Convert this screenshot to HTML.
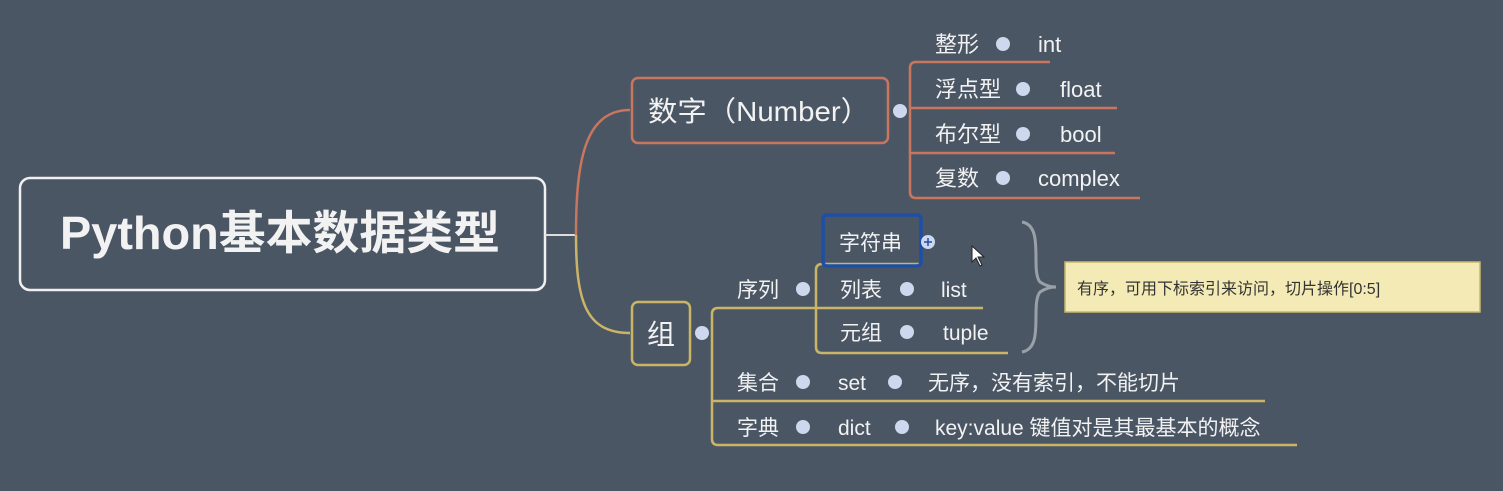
<!DOCTYPE html>
<html><head><meta charset="utf-8"><style>
html,body{margin:0;padding:0;background:#4b5665;}
svg{display:block;}
text{font-family:"Liberation Sans","Noto Sans CJK SC",sans-serif;fill:#f2f2f2;}
</style></head><body>
<svg width="1503" height="491" viewBox="0 0 1503 491" xmlns="http://www.w3.org/2000/svg">
<rect width="1503" height="491" fill="#4b5665"/>
<rect x="20" y="178" width="525" height="112" rx="10" fill="none" stroke="#f0f0f0" stroke-width="2.5"/>
<text x="280" y="249" font-size="46" font-weight="bold" text-anchor="middle" textLength="440" lengthAdjust="spacingAndGlyphs">Python基本数据类型</text>
<line x1="545" y1="235" x2="576" y2="235" stroke="#dddddd" stroke-width="2"/>
<path d="M576 235 C576 160 585 110 630 110" fill="none" stroke="#c8765e" stroke-width="2.5"/>
<path d="M576 235 C576 300 585 333 630 333" fill="none" stroke="#c9b565" stroke-width="2.5"/>
<rect x="632" y="78" width="256" height="65" rx="6" fill="none" stroke="#c8765e" stroke-width="2.5"/>
<text x="648" y="121" font-size="28" textLength="222" lengthAdjust="spacingAndGlyphs">数字（Number）</text>
<circle cx="900" cy="111" r="7" fill="#cdd8ee"/>
<g stroke="#c8765e" stroke-width="2.5" fill="none">
<path d="M1050 62 H916 Q910 62 910 68 V192 Q910 198 916 198 H1140"/>
<line x1="910" y1="108" x2="1117" y2="108"/>
<line x1="910" y1="153" x2="1115" y2="153"/>
</g>
<g font-size="22">
<text x="935" y="52">整形</text><text x="1038" y="52">int</text>
<text x="935" y="97">浮点型</text><text x="1060" y="97">float</text>
<text x="935" y="142">布尔型</text><text x="1060" y="142">bool</text>
<text x="935" y="186">复数</text><text x="1038" y="186">complex</text>
</g>
<g fill="#cdd8ee">
<circle cx="1003" cy="44" r="7"/><circle cx="1023" cy="89" r="7"/><circle cx="1023" cy="134" r="7"/><circle cx="1003" cy="178" r="7"/>
</g>
<rect x="632" y="302" width="58" height="63" rx="6" fill="none" stroke="#c9b565" stroke-width="2.5"/>
<text x="661" y="344" font-size="28" text-anchor="middle">组</text>
<circle cx="702" cy="333" r="7" fill="#cdd8ee"/>
<g stroke="#c9b565" stroke-width="2.5" fill="none">
<path d="M983 308 H718 Q712 308 712 314 V439 Q712 445 718 445 H1297"/>
<line x1="712" y1="401" x2="1265" y2="401"/>
<path d="M920 264 H822 Q816 264 816 270 V347 Q816 353 822 353 H1008"/>
</g>
<rect x="823" y="215" width="98" height="51" rx="4" fill="none" stroke="#1e4fa8" stroke-width="3.5"/>
<g font-size="21">
<text x="839" y="250">字符串</text>
<text x="737" y="297">序列</text>
<text x="840" y="297">列表</text><text x="941" y="297">list</text>
<text x="840" y="340">元组</text><text x="943" y="340">tuple</text>
<text x="737" y="390">集合</text><text x="838" y="390">set</text><text x="928" y="390">无序，没有索引，不能切片</text>
<text x="737" y="435">字典</text><text x="838" y="435">dict</text><text x="935" y="435">key:value 键值对是其最基本的概念</text>
</g>
<g fill="#cdd8ee">
<circle cx="928" cy="242" r="7"/>
<circle cx="803" cy="289" r="7"/><circle cx="907" cy="289" r="7"/><circle cx="907" cy="332" r="7"/>
<circle cx="803" cy="382" r="7"/><circle cx="895" cy="382" r="7"/>
<circle cx="803" cy="427" r="7"/><circle cx="902" cy="427" r="7"/>
</g>
<path d="M924 242 H932 M928 238 V246" stroke="#1e4fa8" stroke-width="1.5"/>
<path d="M972 246 L972 262 L976 258 L980 266 L982 265 L978 257 L984 257 Z" fill="#fff" stroke="#222" stroke-width="1"/>
<path d="M1022 222 C1045 226 1030 270 1040 282 C1046 286 1052 287 1056 287 C1052 287 1046 288 1040 292 C1030 305 1045 348 1022 352" fill="none" stroke="#9aa0a8" stroke-width="3"/>
<rect x="1065" y="262" width="415" height="50" fill="#f3eab5" stroke="#c8b86a" stroke-width="1.5"/>
<text x="1077" y="294" font-size="16" style="fill:#333">有序，可用下标索引来访问，切片操作[0:5]</text>
</svg>
</body></html>
